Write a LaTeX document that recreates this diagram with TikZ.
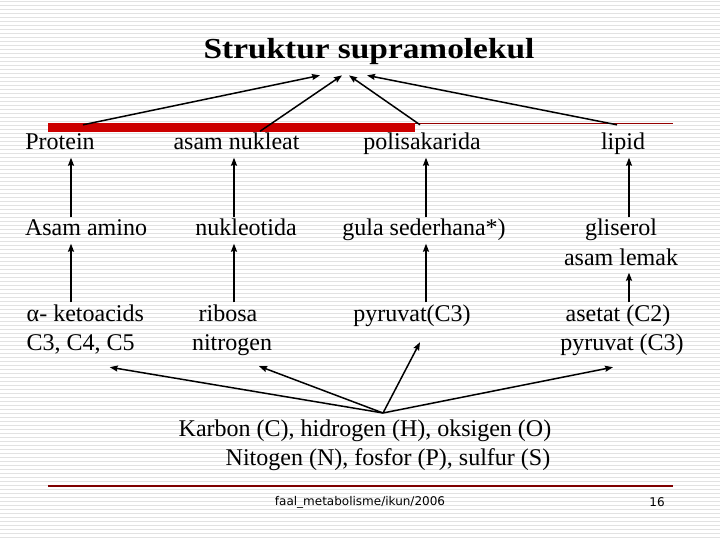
\documentclass[tikz,border=0pt]{standalone}
\usepackage{graphicx}
\usepackage{fontspec}
\setmainfont{Liberation Serif}
\newfontfamily\footfont{DejaVu Sans}
\usetikzlibrary{arrows.meta}
\definecolor{barred}{RGB}{204,0,0}
\definecolor{linered}{RGB}{150,0,0}
\definecolor{footred}{RGB}{128,0,0}
\definecolor{stripegray}{RGB}{226,226,226}

\begin{document}
\begin{tikzpicture}[x=1pt,y=-1pt,node distance=29pt,>={Stealth[length=8pt,width=6pt,inset=1pt]},
  lbl/.style={font=\fontsize{24}{29}\selectfont,inner sep=1.5pt,text height=17pt,text depth=6pt,anchor=base},
  ttl/.style={font=\fontsize{29}{34}\selectfont\bfseries,inner sep=0pt,anchor=base},
  foot/.style={font=\footfont\fontsize{12}{14}\selectfont,inner sep=0pt},
  conn/.style={->,line width=1.5pt},
  stripe/.style={stripegray,line width=1pt}]
\useasboundingbox (0,0) rectangle (720,540);
\fill[white] (0,0) rectangle (720,540);
\foreach \y in {1.5,5.5,...,537.5}
  \draw[stripe] (0,\y) -- (720,\y);

% title bar
\fill[barred] (48,123) rectangle (415,132);
\draw[linered,line width=0.8pt] (415,123.5) -- (673,123.5);

\node[ttl] (title) at (369,59) {\scalebox{1.15}[1]{Struktur supramolekul}};

% molecules
\node[lbl] (protein) at (60,150) {Protein};
\node[lbl] (nukleat) at (236.5,150) {asam nukleat};
\node[lbl] (polisakarida) at (422,150) {polisakarida};
\node[lbl] (lipid) at (623,150) {lipid};

% building blocks
\node[lbl] (amino) at (86,236) {Asam amino};
\node[lbl] (nukleotida) at (246,236) {nukleotida};
\node[lbl] (gula) at (424,236) {gula sederhana*)};
\node[lbl] (gliserol) at (621,236) {gliserol};
\node[lbl] (lemak) [below of=gliserol] {asam lemak};

% precursors
\node[lbl,anchor=base west] (keto) at (25,321) {α- ketoacids};
\node[lbl,anchor=base west] (cfive) at (25,350) {C3, C4, C5};
\node[lbl] (ribosa) at (228,321) {ribosa};
\node[lbl] (nitrogen) at (232,350) {nitrogen};
\node[lbl] (pyruvat) at (412,321) {pyruvat(C3)};
\node[lbl] (asetat) at (618,321) {asetat (C2)};
\node[lbl] (pyruvatb) at (622,350) {pyruvat (C3)};

% elements
\node[lbl,anchor=base east] (karbon) at (553,436) {Karbon (C), hidrogen (H), oksigen (O)};
\node[lbl,anchor=base east] (nitogen) at (552,465) {Nitogen (N), fosfor (P), sulfur (S)};

% footer
\draw[footred,line width=1.2pt] (48,486) -- (673,486);
\node[foot] (credit) at (360,502) {faal\_metabolisme/ikun/2006};
\node[foot] (page) at (657,502) {16};

\coordinate (k1) at (71,0);
\coordinate (k2) at (234,0);
\coordinate (k3) at (426,0);
\coordinate (k4) at (629,0);
\coordinate (apex) at ([yshift=-10pt]title.south);
\coordinate (src) at (383,413);

\path[conn] ([xshift=23pt,yshift=6.5pt]protein.north) edge ([xshift=-49pt]apex)
      ([xshift=23.5pt]nukleat.north) edge ([xshift=-27pt]apex)
      ([xshift=-2pt,yshift=6.5pt]polisakarida.north) edge ([xshift=-20pt]apex)
      ([xshift=-6pt,yshift=6.5pt]lipid.north) edge ([xshift=-2pt]apex);

\path[conn] (amino.north -| k1) edge (protein.south -| k1)
      (nukleotida.north -| k2) edge (nukleat.south -| k2)
      (gula.north -| k3) edge (polisakarida.south -| k3)
      (gliserol.north -| k4) edge (lipid.south -| k4)
      (keto.north -| k1) edge (amino.south -| k1)
      (ribosa.north -| k2) edge (nukleotida.south -| k2)
      (pyruvat.north -| k3) edge (gula.south -| k3)
      (asetat.north -| k4) edge (lemak.south -| k4);

\path[conn] (src) edge ([xshift=29pt,yshift=-9.5pt]cfive.south)
      (src) edge ([xshift=27pt,yshift=-8.5pt]nitrogen.south)
      (src) edge ([xshift=8pt,yshift=-13.5pt]pyruvat.south)
      (src) edge ([xshift=-9pt,yshift=-9.5pt]pyruvatb.south);

\end{tikzpicture}
\end{document}
